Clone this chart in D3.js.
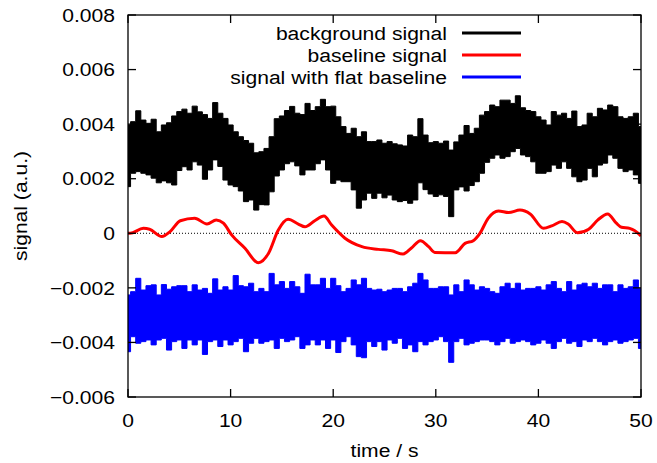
<!DOCTYPE html>
<html><head><meta charset="utf-8">
<script src="https://cdn.jsdelivr.net/npm/d3@7/dist/d3.min.js"></script>
<style>
html,body{margin:0;padding:0;background:#fff;}
svg{display:block;}
text{font-family:"Liberation Sans",Arial,Helvetica,sans-serif;fill:#000;}
</style></head>
<body>
<svg id="chart" width="657" height="463"></svg>
<script>
// ---------- data (values in units of 0.001 a.u.) ----------
const unit = 0.001;
const sampleStep = 0.5; // s, sampling grid of the envelopes

const backgroundHigh = [3.97,4.09,4.49,4.15,4.03,4.18,3.72,3.97,4.05,4.30,4.46,4.55,4.40,4.66,4.45,4.35,4.21,4.79,4.40,4.21,
 3.97,3.72,3.54,3.40,3.30,2.95,2.99,3.11,3.54,4.20,4.30,4.50,4.65,4.40,4.35,4.76,4.50,4.64,4.91,4.64,
 4.66,4.27,3.91,3.66,3.85,3.54,3.72,3.36,3.36,3.42,3.30,3.36,3.28,3.24,3.20,3.60,3.54,4.20,3.60,3.32,
 3.36,3.30,3.38,3.05,3.35,3.60,3.95,3.66,3.85,4.33,4.46,4.70,4.64,4.88,4.88,4.76,5.04,4.60,4.50,4.46,
 4.27,4.15,3.97,4.46,4.33,4.40,4.21,4.48,3.91,3.97,4.40,4.27,4.58,4.52,4.70,4.64,4.27,4.21,4.27,4.40,3.91];
const backgroundLow = [1.71,2.20,2.26,2.20,2.14,2.02,1.85,1.92,1.85,1.77,2.30,2.44,2.32,2.62,2.50,1.98,2.32,2.69,2.45,1.95,
 1.77,1.71,1.55,1.16,1.22,0.85,1.05,1.04,1.52,2.10,2.32,2.55,2.62,2.47,2.14,2.32,2.32,2.55,2.69,2.32,
 1.83,1.95,1.89,1.89,1.59,0.92,1.22,1.47,1.28,1.47,1.30,1.40,1.22,1.16,1.20,1.10,1.22,1.85,1.60,1.44,
 1.35,1.41,1.35,0.61,1.59,1.70,1.55,1.75,1.89,2.20,2.60,2.75,2.87,2.75,2.81,2.99,3.11,2.87,2.81,2.62,
 2.20,2.20,2.26,2.50,2.38,2.62,2.38,2.07,1.89,1.95,2.38,2.07,2.50,2.57,2.87,2.75,2.38,2.26,2.32,2.14,1.83];

const flatHigh = [-2.26,-2.14,-1.65,-2.08,-1.92,-1.89,-2.26,-1.88,-2.05,-1.96,-1.92,-1.92,-2.14,-1.89,-2.08,-2.02,-2.20,-1.67,-2.08,-1.96,
 -2.08,-1.55,-1.92,-1.96,-1.83,-2.14,-2.02,-2.14,-1.47,-1.89,-1.77,-2.02,-1.77,-1.96,-2.20,-1.50,-1.89,-1.89,-1.65,-2.02,
 -1.65,-1.92,-2.14,-2.02,-1.71,-1.89,-1.65,-2.02,-2.08,-2.05,-2.14,-2.08,-2.02,-2.02,-2.14,-1.96,-1.83,-1.47,-1.71,-2.02,
 -2.02,-1.96,-1.96,-2.26,-1.89,-2.14,-1.71,-1.89,-2.08,-1.96,-2.02,-2.14,-2.20,-1.96,-1.83,-2.02,-1.83,-2.08,-2.02,-2.02,
 -1.96,-2.08,-1.89,-1.77,-2.02,-2.14,-1.77,-2.08,-1.89,-1.83,-1.96,-1.83,-2.02,-1.89,-1.89,-2.14,-1.89,-2.02,-1.96,-1.71,-2.02];
const flatLow = [-4.34,-3.79,-4.03,-3.97,-3.91,-4.09,-3.91,-3.85,-4.28,-3.97,-3.91,-4.22,-3.91,-4.09,-3.91,-4.44,-3.97,-3.91,-4.15,-3.91,
 -4.09,-3.97,-3.85,-4.34,-4.03,-3.85,-4.03,-3.97,-3.91,-4.22,-3.85,-3.97,-3.91,-3.79,-4.22,-4.09,-3.91,-4.09,-3.91,-4.22,
 -3.91,-4.37,-3.97,-3.79,-4.09,-4.52,-4.56,-3.97,-4.15,-3.97,-4.28,-3.91,-4.03,-3.85,-4.22,-4.09,-4.34,-3.97,-4.09,-3.97,
 -3.91,-3.79,-3.97,-4.73,-3.97,-3.85,-4.09,-4.03,-3.97,-3.91,-3.91,-3.97,-4.09,-3.97,-3.85,-4.03,-3.97,-3.91,-3.97,-4.09,
 -4.03,-3.91,-4.03,-4.22,-3.97,-3.85,-4.03,-3.97,-4.15,-3.91,-3.97,-3.85,-3.97,-4.09,-3.97,-3.91,-4.03,-3.97,-3.91,-3.85,-4.22];

const baselineTime = [0,0.2,1.5,2.1,3.3,4.1,5.1,6.5,7.7,8.6,9.3,10.1,11.4,12.7,13.7,14.65,15.6,16.6,17.25,18.2,19.1,19.85,
 21.15,22.8,24.4,25.7,26.8,27.6,28.5,29.3,29.9,31.9,32.85,33.65,34.3,35.1,36.1,37.1,38.2,39.2,40.5,41.3,42.3,42.9,
 43.8,44.9,45.8,46.75,47.6,48.1,48.9,49.9,50];
const baselineValue = [0,0,0.18,0.15,-0.12,0.06,0.46,0.55,0.34,0.49,0.37,-0.06,-0.55,-1.08,-0.73,0.12,0.51,0.34,0.24,0.46,0.63,0.30,
 -0.18,-0.49,-0.59,-0.64,-0.76,-0.55,-0.27,-0.49,-0.70,-0.71,-0.37,-0.27,0,0.55,0.82,0.76,0.85,0.71,0.18,0.27,0.43,0.34,
 0.02,0.15,0.49,0.71,0.37,0.22,0.18,-0.06,-0.10];

const xTicks = [0,10,20,30,40,50];
const xTickLabels = ["0","10","20","30","40","50"];
const yTicks = [-0.006,-0.004,-0.002,0,0.002,0.004,0.006,0.008];
const yTickLabels = ["\u22120.006","\u22120.004","\u22120.002","0","0.002","0.004","0.006","0.008"];
const legendLabels = ["background signal","baseline signal","signal with flat baseline"];
const seriesColors = ["#000000","#ff0000","#0000ff"];

// ---------- layout ----------
const svg = d3.select("#chart");
const L = 128, R = 641, T = 15, B = 397;
const x = d3.scaleLinear().domain([0,50]).range([L,R]);
const y = d3.scaleLinear().domain([-0.006,0.008]).range([B,T]);
const fs = 19;
const sx = 1.11; // horizontal stretch of the original font

function label(px, py, txt, anchor, rot){
  const t = svg.append("text")
    .attr("transform", `translate(${px},${py})` + (rot ? ` rotate(${rot})` : "") + ` scale(${sx},1)`)
    .attr("text-anchor", anchor).attr("dy","0.35em").attr("font-size", fs).text(txt);
  return t;
}

const plot = svg.append("g");
plot.append("clipPath").attr("id","clip").append("rect")
  .attr("x",L).attr("y",T).attr("width",R-L).attr("height",B-T);

// zero axis (dotted)
plot.append("line").attr("x1",L).attr("x2",R).attr("y1",y(0)).attr("y2",y(0))
  .attr("stroke","#000").attr("stroke-width",1).attr("stroke-dasharray","1,2");

function envelope(hi, lo){
  return hi.map((h,i)=>({t:i*sampleStep, hi:h*unit, lo:lo[i]*unit}));
}
const band = d3.area().curve(d3.curveStep)
  .x(d=>x(d.t)).y0(d=>y(d.lo)).y1(d=>y(d.hi));

const g = plot.append("g").attr("clip-path","url(#clip)");
g.append("path").datum(envelope(backgroundHigh, backgroundLow))
  .attr("d",band).attr("fill",seriesColors[0]).attr("stroke",seriesColors[0]).attr("stroke-width",1);

const red = baselineTime.map((t,i)=>({t, v:baselineValue[i]*unit}));
g.append("path").datum(red)
  .attr("d", d3.line().curve(d3.curveMonotoneX).x(d=>x(d.t)).y(d=>y(d.v)))
  .attr("fill","none").attr("stroke",seriesColors[1]).attr("stroke-width",3).attr("stroke-linejoin","round");

g.append("path").datum(envelope(flatHigh, flatLow))
  .attr("d",band).attr("fill",seriesColors[2]).attr("stroke",seriesColors[2]).attr("stroke-width",1);

// frame
svg.append("rect").attr("x",L).attr("y",T).attr("width",R-L).attr("height",B-T)
  .attr("fill","none").attr("stroke","#000").attr("stroke-width",1.3);

// ticks (inward, mirrored)
const tk = 8;
xTicks.forEach((v,i)=>{
  const px = x(v);
  svg.append("line").attr("x1",px).attr("x2",px).attr("y1",B).attr("y2",B-tk).attr("stroke","#000").attr("stroke-width",1.3);
  svg.append("line").attr("x1",px).attr("x2",px).attr("y1",T).attr("y2",T+tk).attr("stroke","#000").attr("stroke-width",1.3);
  label(px, B+23, xTickLabels[i], "middle");
});
yTicks.forEach((v,i)=>{
  const py = y(v);
  svg.append("line").attr("x1",L).attr("x2",L+tk).attr("y1",py).attr("y2",py).attr("stroke","#000").attr("stroke-width",1.3);
  svg.append("line").attr("x1",R).attr("x2",R-tk).attr("y1",py).attr("y2",py).attr("stroke","#000").attr("stroke-width",1.3);
  label(L-13, py, yTickLabels[i], "end");
});

// axis labels
label((L+R)/2, 450, "time / s", "middle");
label(20, (T+B)/2, "signal (a.u.)", "middle", -90);

// legend
legendLabels.forEach((lab,i)=>{
  const ly = 33 + i*22;
  label(447, ly, lab, "end");
  svg.append("line").attr("x1",462).attr("x2",521).attr("y1",ly).attr("y2",ly)
    .attr("stroke",seriesColors[i]).attr("stroke-width",3);
});
</script>
</body></html>
